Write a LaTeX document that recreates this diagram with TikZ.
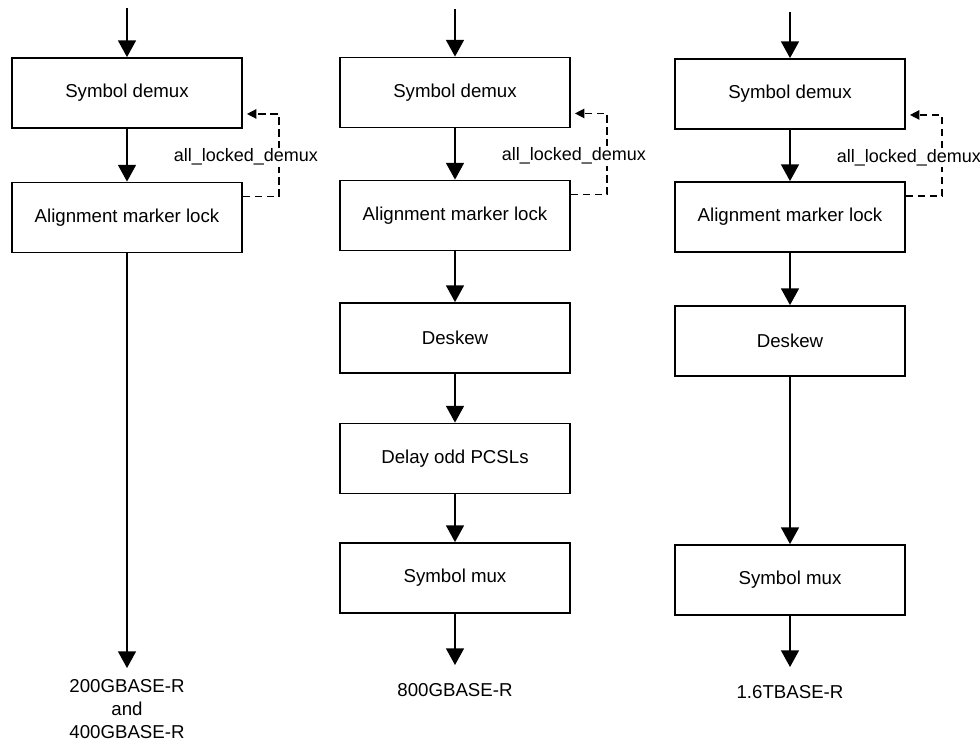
\documentclass[tikz,border=0pt]{standalone}
\usepackage{fontspec}
\setmainfont{Liberation Sans}
\usetikzlibrary{arrows.meta, calc}

\begin{document}
\begin{tikzpicture}[x=0.75pt, y=-0.75pt,
	block/.style={draw, line width=1.4pt, minimum width=172.5pt, minimum height=52.5pt, inner sep=0pt, font=\fontsize{14}{17}\selectfont},
	flow/.style={-{Triangle[length=12.5pt, width=13.5pt]}, line width=1pt},
	lockline/.style={-{Triangle[length=7pt, width=7pt]}, line width=1pt, dash pattern=on 5.5pt off 3.5pt},
	locklabel/.style={fill=white, inner sep=1pt, font=\fontsize{13.5}{16}\selectfont},
	outlabel/.style={align=center, inner sep=0pt, font=\fontsize{14}{17}\selectfont}]
	\useasboundingbox (0,0) rectangle (980,743);

	\coordinate (inA) at (127, 8);
	\node (sdA) at (127, 93) [block] {Symbol demux};
	\node (amlA) at (127, 217.5) [block] {Alignment marker lock};
	\coordinate (endA) at (127, 668);
	\node (outA) at (127, 709) [outlabel] {200GBASE-R\\and\\400GBASE-R};

	\draw[flow] (inA) -- (sdA);
	\draw[flow] (sdA) -- (amlA);
	\draw[flow] (amlA) -- (endA);

	\coordinate (inB) at (455, 9);
	\node (sdB) at (455, 92.5) [block] {Symbol demux};
	\node (amlB) at (455, 215.5) [block] {Alignment marker lock};
	\node (dskB) at (455, 338) [block] {Deskew};
	\node (dlyB) at (455, 458.5) [block] {Delay odd PCSLs};
	\node (muxB) at (455, 578) [block] {Symbol mux};
	\coordinate (endB) at (455, 665);
	\node (outB) at (455, 690) [outlabel] {800GBASE-R};

	\draw[flow] (inB) -- (sdB);
	\draw[flow] (sdB) -- (amlB);
	\draw[flow] (amlB) -- (dskB);
	\draw[flow] (dskB) -- (dlyB);
	\draw[flow] (dlyB) -- (muxB);
	\draw[flow] (muxB) -- (endB);

	\coordinate (inC) at (790, 12);
	\node (sdC) at (790, 94) [block] {Symbol demux};
	\node (amlC) at (790, 217) [block] {Alignment marker lock};
	\node (dskC) at (790, 341) [block] {Deskew};
	\node (muxC) at (790, 580) [block] {Symbol mux};
	\coordinate (endC) at (790, 667);
	\node (outC) at (790, 692) [outlabel] {1.6TBASE-R};

	\draw[flow] (inC) -- (sdC);
	\draw[flow] (sdC) -- (amlC);
	\draw[flow] (amlC) -- (dskC);
	\draw[flow] (dskC) -- (muxC);
	\draw[flow] (muxC) -- (endC);

	\foreach \c in {A, B, C} {
		\coordinate (from\c) at ($(aml\c.north east) + (0, 15)$);
		\coordinate (to\c) at ($(sd\c.south east) + (4, -15)$);
		\draw[lockline] (from\c) -- ++(36, 0) |- (to\c);
		\node (lock\c) at ($(sd\c.south east)!0.5!(aml\c.north east) + (3, 2)$) [locklabel] {all\_locked\_demux};
	}
\end{tikzpicture}
\end{document}
